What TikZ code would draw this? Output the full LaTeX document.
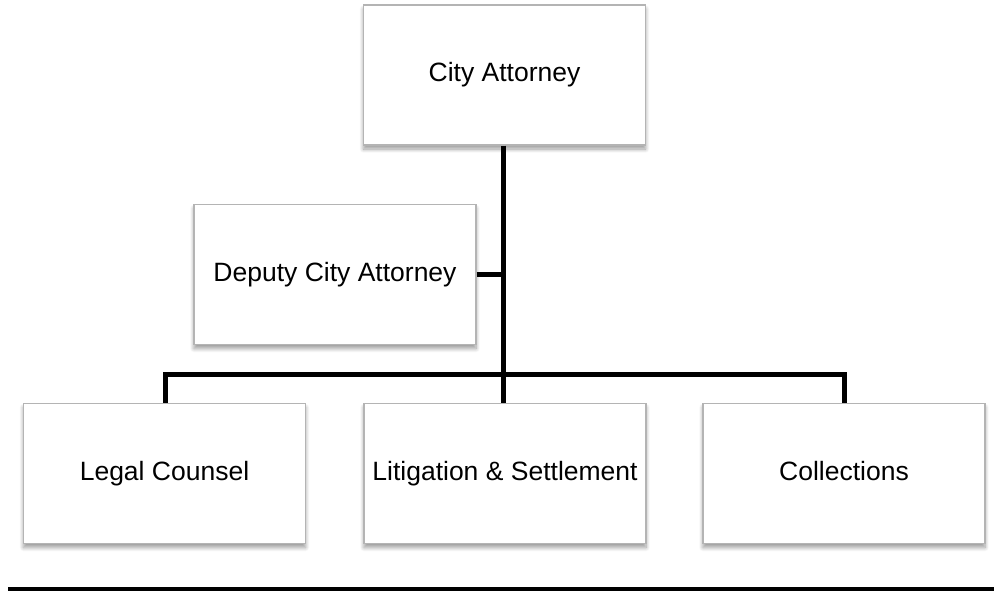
\documentclass[tikz,border=0pt]{standalone}
\usepackage{fontspec}
\setmainfont{Liberation Sans}
\usetikzlibrary{shadows.blur}
\definecolor{boxline}{HTML}{B4B4B4}
\tikzset{
  orgbox/.style={draw=boxline, line width=1.2pt, fill=white, minimum width=282pt, minimum height=140pt,
    inner sep=0pt, text height=19pt, text depth=5.5pt, font=\fontsize{26.5}{30}\selectfont,
    blur shadow={shadow xshift=0pt, shadow yshift=-4pt, shadow blur steps=8, shadow blur radius=4pt, shadow opacity=40}},
  link/.style={line width=5pt, black},
  rule/.style={line width=4pt, black}
}
\begin{document}
\begin{tikzpicture}[x=1pt,y=-1pt]
\useasboundingbox (0,0) rectangle (994,590);
\node[orgbox] (ca) at (504.5,75) {City Attorney};
\node[orgbox] (dca) at (335,274.5) {Deputy City Attorney};
\node[orgbox] (lc) at (164.5,473.5) {Legal Counsel};
\node[orgbox] (ls) at (505,473.5) {Litigation \& Settlement};
\node[orgbox] (co) at (844,473.5) {Collections};
\coordinate (jl) at (165,374.5);
\coordinate (jm) at (503,374.5);
\coordinate (jr) at (844,374.5);
\coordinate (jd) at (503,274.5);
\draw[link] (ca.south -| jm) -- (ls.north -| jm);
\draw[link] (dca.east) -- (jd);
\draw[link] (lc.north -| jl) -- (jl) -- (jr) -- (co.north -| jr);
\coordinate (r1) at (8,588.5);
\coordinate (r2) at (994,588.5);
\draw[rule] (r1) -- (r2);
\end{tikzpicture}
\end{document}
